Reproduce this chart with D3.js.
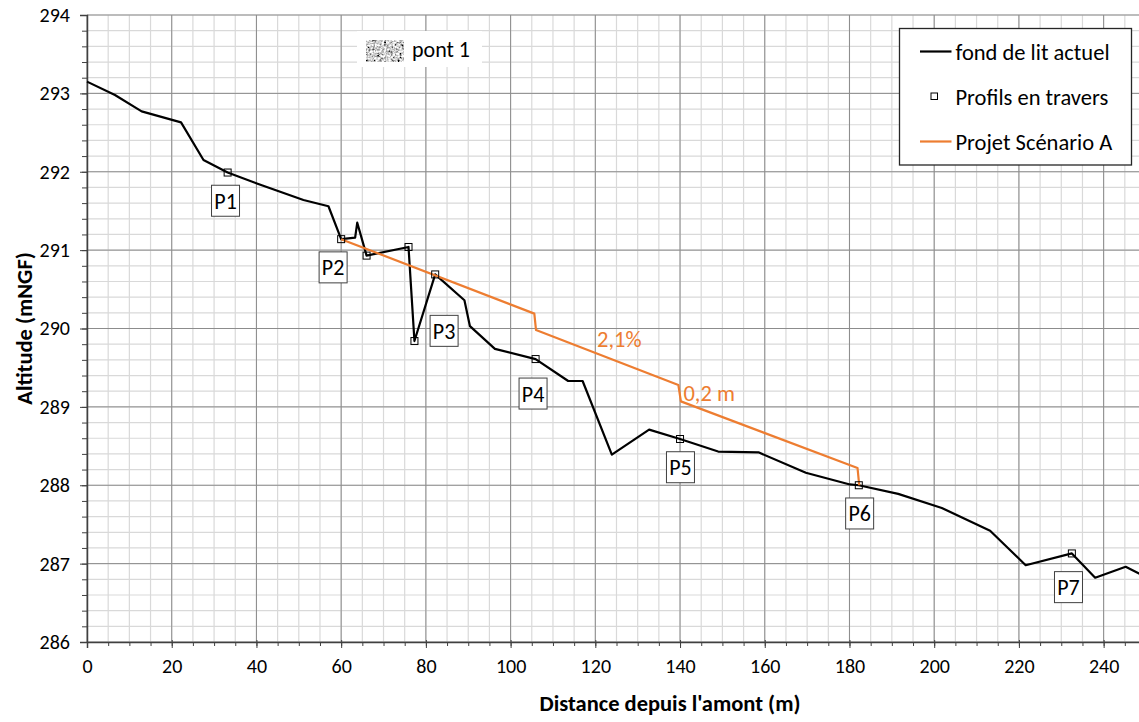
<!DOCTYPE html>
<html>
<head>
<meta charset="utf-8">
<script src="https://cdn.jsdelivr.net/npm/d3@7"></script>
<style>
  body { margin: 0; background: #fff; overflow: hidden; }
  svg { display: block; font-family: Calibri, Carlito, Lato, sans-serif; }
</style>
</head>
<body>
<svg id="chart" width="1139" height="722"></svg>
<script>
// fond de lit actuel : [distance (m), altitude (m NGF)]
const bedProfile = [
  [0, 293.15], [6.6, 292.98], [12.9, 292.77], [22.2, 292.63], [27.5, 292.15],
  [33.2, 291.99], [40.1, 291.85], [51.1, 291.64], [57.0, 291.56], [60.0, 291.14],
  [63.3, 291.16], [63.8, 291.35], [64.8, 291.16], [66.0, 290.93], [75.9, 291.04],
  [77.3, 289.84], [82.2, 290.69], [89.1, 290.36], [90.4, 290.03], [96.3, 289.74],
  [105.9, 289.61], [113.6, 289.33], [117.0, 289.33], [123.9, 288.39], [132.7, 288.71],
  [140.0, 288.59], [149.0, 288.43], [158.5, 288.42], [169.7, 288.16], [180.1, 288.01],
  [182.2, 288.0], [191.5, 287.89], [201.8, 287.71], [213.2, 287.42], [221.6, 286.98],
  [232.5, 287.13], [238.0, 286.82], [245.2, 286.96], [250, 286.83]
];

// Profils en travers
const crossSections = [
  [33.2, 291.99], [60.0, 291.14], [66.0, 290.93], [75.9, 291.04], [77.3, 289.84],
  [82.2, 290.69], [105.9, 289.61], [140.0, 288.59], [182.2, 288.0], [232.5, 287.13]
];

// Projet Scénario A
const scenarioA = [
  [60.0, 291.14], [105.6, 290.19], [106.0, 289.98], [139.6, 289.28],
  [140.2, 289.07], [181.9, 288.22], [182.3, 288.0]
];

// labels of the cross sections (centre of the box)
const sectionLabels = [
  { name: 'P1', x: 32.7, y: 291.63 },
  { name: 'P2', x: 58.1, y: 290.78 },
  { name: 'P3', x: 84.3, y: 289.97 },
  { name: 'P4', x: 105.3, y: 289.17 },
  { name: 'P5', x: 140.1, y: 288.23 },
  { name: 'P6', x: 182.4, y: 287.64 },
  { name: 'P7', x: 231.7, y: 286.7 }
];

const slopeNotes = [
  { text: '2,1%', x: 120.4, y: 289.77 },
  { text: '0,2 m', x: 140.8, y: 289.07 }
];

const xTickValues = [0, 20, 40, 60, 80, 100, 120, 140, 160, 180, 200, 220, 240];
const yTickValues = [286, 287, 288, 289, 290, 291, 292, 293, 294];

const orange = '#ED7D31';
const svg = d3.select('#chart');

const x = d3.scaleLinear().domain([0, 250]).range([87, 1146]);
const y = d3.scaleLinear().domain([286, 294]).range([642, 15]);

const xMinor = d3.range(0, 251, 5);
const yMinor = d3.range(286, 294.01, 0.2);

// grid
const grid = svg.append('g');
grid.selectAll('.vminor').data(xMinor).join('line')
  .attr('x1', (d) => x(d)).attr('x2', (d) => x(d))
  .attr('y1', y(294)).attr('y2', y(286))
  .attr('stroke', '#d9d9d9').attr('stroke-width', 1.2);
grid.selectAll('.hminor').data(yMinor).join('line')
  .attr('x1', x(0)).attr('x2', x(250))
  .attr('y1', (d) => y(d)).attr('y2', (d) => y(d))
  .attr('stroke', '#d9d9d9').attr('stroke-width', 1.2);
grid.selectAll('.vmajor').data(xTickValues.concat([260])).join('line')
  .attr('x1', (d) => x(d)).attr('x2', (d) => x(d))
  .attr('y1', y(294)).attr('y2', y(286))
  .attr('stroke', '#8c8c8c').attr('stroke-width', 1);
grid.selectAll('.hmajor').data(yTickValues).join('line')
  .attr('x1', x(0)).attr('x2', x(250))
  .attr('y1', (d) => y(d)).attr('y2', (d) => y(d))
  .attr('stroke', '#8c8c8c').attr('stroke-width', 1);

// "pont 1" legend
svg.append('rect').attr('x', 357).attr('y', 31).attr('width', 125).attr('height', 36).attr('fill', '#fff');
const defs = svg.append('defs');
const f = defs.append('filter').attr('id', 'grain')
  .attr('x', 0).attr('y', 0).attr('width', 1).attr('height', 1);
f.append('feTurbulence').attr('type', 'fractalNoise').attr('baseFrequency', 0.45)
  .attr('numOctaves', 2).attr('seed', 4);
f.append('feColorMatrix').attr('type', 'matrix')
  .attr('values', '1.3 1.3 1.3 0 -1.33  1.3 1.3 1.3 0 -1.33  1.3 1.3 1.3 0 -1.33  0 0 0 0 1');
svg.append('rect').attr('x', 366.5).attr('y', 40).attr('width', 37).attr('height', 22)
  .attr('fill', '#aaa').attr('filter', 'url(#grain)');
svg.append('text').attr('x', 412).attr('y', 57).attr('font-size', 22).attr('fill', '#000').text('pont 1');

// axes
const axisColor = '#404040';
const yAxis = svg.append('g').attr('transform', `translate(${x(0)},0)`);
yAxis.call(d3.axisLeft(y).tickValues(yMinor).tickSize(5).tickFormat(''));
yAxis.call((g) => g.selectAll('.tick line').attr('stroke', axisColor));
const yAxisMajor = svg.append('g').attr('transform', `translate(${x(0)},0)`)
  .call(d3.axisLeft(y).tickValues(yTickValues).tickSize(7).tickPadding(10).tickFormat(d3.format('d')));
yAxisMajor.selectAll('.tick line').attr('stroke', axisColor);
yAxisMajor.selectAll('.tick text').attr('font-size', 20).attr('fill', '#000')
  .attr('font-family', 'Calibri, Carlito, Lato, sans-serif');
yAxis.select('.domain').remove();
yAxisMajor.select('.domain').attr('stroke', axisColor).attr('stroke-width', 1.5);

const xAxis = svg.append('g').attr('transform', `translate(0,${y(286)})`);
xAxis.call(d3.axisBottom(x).tickValues(xMinor).tickSize(4).tickFormat(''));
xAxis.selectAll('.tick line').attr('stroke', axisColor);
xAxis.select('.domain').remove();
const xAxisMajor = svg.append('g').attr('transform', `translate(0,${y(286)})`)
  .call(d3.axisBottom(x).tickValues(xTickValues).tickSize(6).tickPadding(11).tickFormat(d3.format('d')));
xAxisMajor.selectAll('.tick line').attr('stroke', axisColor).attr('y1', -2);
xAxisMajor.selectAll('.tick text').attr('font-size', 20).attr('fill', '#000')
  .attr('font-family', 'Calibri, Carlito, Lato, sans-serif');
xAxisMajor.select('.domain').attr('stroke', axisColor).attr('stroke-width', 1.5);

// axis titles
svg.append('text').attr('x', 670).attr('y', 711).attr('text-anchor', 'middle')
  .attr('font-size', 22.5).attr('font-weight', 'bold').text("Distance depuis l'amont (m)");
svg.append('text').attr('transform', `translate(32,${(y(294) + y(286)) / 2}) rotate(-90)`)
  .attr('text-anchor', 'middle').attr('font-size', 22.5).attr('font-weight', 'bold')
  .text('Altitude (mNGF)');

// series
const line = d3.line().x((d) => x(d[0])).y((d) => y(d[1]));
svg.append('path').datum(bedProfile).attr('d', line)
  .attr('fill', 'none').attr('stroke', '#000').attr('stroke-width', 2.2).attr('stroke-linejoin', 'round');
svg.append('path').datum(scenarioA).attr('d', line)
  .attr('fill', 'none').attr('stroke', orange).attr('stroke-width', 2.2).attr('stroke-linejoin', 'round');
svg.selectAll('.section').data(crossSections).join('rect')
  .attr('x', (d) => x(d[0]) - 3.5).attr('y', (d) => y(d[1]) - 3.5)
  .attr('width', 7).attr('height', 7)
  .attr('fill', 'none').attr('stroke', '#000').attr('stroke-width', 1);

// section labels
const lab = svg.selectAll('.lab').data(sectionLabels).join('g')
  .attr('transform', (d) => `translate(${x(d.x)},${y(d.y)})`);
lab.append('rect').attr('x', -14).attr('y', -15.5).attr('width', 28).attr('height', 31)
  .attr('fill', '#fff').attr('stroke', axisColor).attr('stroke-width', 1);
lab.append('text').attr('text-anchor', 'middle').attr('y', 8).attr('font-size', 22)
  .attr('fill', '#000').text((d) => d.name);

svg.selectAll('.note').data(slopeNotes).join('text')
  .attr('x', (d) => x(d.x)).attr('y', (d) => y(d.y))
  .attr('font-size', 22.5).attr('fill', orange).text((d) => d.text);

// legend
const lg = svg.append('g').attr('transform', 'translate(899.5,28.5)');
lg.append('rect').attr('width', 232).attr('height', 136.5)
  .attr('fill', '#fff').attr('stroke', '#262626').attr('stroke-width', 1.3);
const legendItems = [
  { label: 'fond de lit actuel', type: 'line', color: '#000' },
  { label: 'Profils en travers', type: 'marker', color: '#000' },
  { label: 'Projet Scénario A', type: 'line', color: orange }
];
const li = lg.selectAll('.li').data(legendItems).join('g')
  .attr('transform', (d, i) => `translate(0,${23 + i * 45})`);
li.filter((d) => d.type === 'line').append('line')
  .attr('x1', 20.5).attr('x2', 52).attr('stroke', (d) => d.color).attr('stroke-width', 2.2);
li.filter((d) => d.type === 'marker').append('rect')
  .attr('x', 31.5).attr('y', -3.5).attr('width', 6.5).attr('height', 6.5)
  .attr('fill', 'none').attr('stroke', '#000');
li.append('text').attr('x', 56).attr('y', 8).attr('font-size', 22.5).attr('fill', '#000')
  .text((d) => d.label);
</script>
</body>
</html>
